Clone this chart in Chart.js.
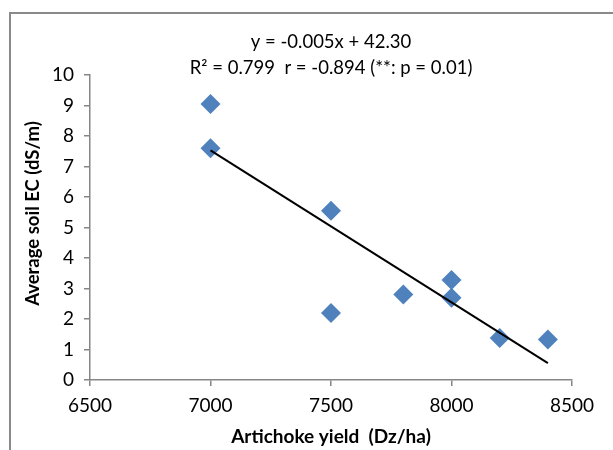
<!DOCTYPE html>
<html>
<head>
<meta charset="utf-8">
<title>Artichoke yield vs average soil EC</title>
<script src="https://cdn.jsdelivr.net/npm/chart.js@4.4.0/dist/chart.umd.min.js"></script>
<style>
  html, body { margin: 0; padding: 0; background: #fff; overflow: hidden; }
  #wrap { position: relative; width: 613px; height: 450px; }
  #frame { position: absolute; left: 9px; top: 12px; width: 700px; height: 500px;
           border-left: 2px solid #8a8a8a; border-top: 2px solid #8a8a8a; }
  #chart { position: absolute; left: 0; top: 0; }
</style>
</head>
<body>
<div id="wrap">
  <div id="frame"></div>
  <canvas id="chart" width="613" height="450"></canvas>
</div>
<script>
// yield (Dz/ha) and average soil EC (dS/m) per plot
var yieldDzHa = [7000, 7000, 7500, 7500, 7800, 8000, 8000, 8200, 8400];
var soilEC    = [9.05, 7.6, 5.55, 2.2, 2.8, 3.28, 2.7, 1.38, 1.33];

var xTicks = [6500, 7000, 7500, 8000, 8500];
var yTicks = [0, 1, 2, 3, 4, 5, 6, 7, 8, 9, 10];

var fitLabel = ['y = -0.005x + 42.30', 'R\u00b2 = 0.799  r = -0.894 (**: p = 0.01)'];
var xTitle = 'Artichoke yield  (Dz/ha)';
var yTitle = 'Average soil EC (dS/m)';

// least squares fit of EC on yield
function linearFit(xs, ys) {
  var n = xs.length, mx = 0, my = 0, sxy = 0, sxx = 0;
  for (var i = 0; i < n; i++) { mx += xs[i]; my += ys[i]; }
  mx /= n; my /= n;
  for (var j = 0; j < n; j++) {
    sxy += (xs[j] - mx) * (ys[j] - my);
    sxx += (xs[j] - mx) * (xs[j] - mx);
  }
  var slope = sxy / sxx;
  return { slope: slope, intercept: my - slope * mx };
}

var fit = linearFit(yieldDzHa, soilEC);
var xLo = Math.min.apply(null, yieldDzHa), xHi = Math.max.apply(null, yieldDzHa);
var trend = [xLo, xHi].map(function (x) { return { x: x, y: fit.intercept + fit.slope * x }; });

var points = yieldDzHa.map(function (x, i) { return { x: x, y: soilEC[i] }; });

var axisGray = '#868686';
var FONT = 'Lato, "Open Sans", sans-serif';

// equation text above the plot, plus the rotated y title sitting a bit above centre
var extraText = {
  id: 'extraText',
  afterDraw: function (chart) {
    var ctx = chart.ctx, area = chart.chartArea;
    var cx = (area.left + area.right) / 2;
    ctx.save();
    ctx.fillStyle = '#000';
    ctx.font = '18.5px ' + FONT;
    ctx.textAlign = 'center';
    ctx.textBaseline = 'middle';
    ctx.fillText(fitLabel[0], cx, 42);
    ctx.fillText(fitLabel[1], cx, 68);

    ctx.translate(33, (area.top + area.bottom) / 2 - 14);
    ctx.rotate(-Math.PI / 2);
    ctx.font = 'bold 18.5px ' + FONT;
    ctx.fillText(yTitle, 0, 0);
    ctx.restore();
  }
};

function plain(v) { return String(v); }

new Chart(document.getElementById('chart'), {
  type: 'scatter',
  data: {
    datasets: [{
      label: 'Trend',
      type: 'line',
      data: trend,
      borderColor: '#000',
      borderWidth: 2,
      pointRadius: 0,
      fill: false,
      order: 0
    }, {
      label: 'Average soil EC',
      data: points,
      pointStyle: 'rectRot',
      pointRadius: 10,
      pointHoverRadius: 10,
      backgroundColor: '#4F81BD',
      borderColor: '#4F81BD',
      borderWidth: 0,
      order: 1
    }]
  },
  options: {
    responsive: false,
    animation: false,
    events: [],
    layout: { padding: { left: 0, top: 75, right: 41, bottom: 0 } },
    plugins: {
      legend: { display: false },
      tooltip: { enabled: false }
    },
    scales: {
      x: {
        type: 'linear',
        min: 6500,
        max: 8500,
        afterFit: function (s) { s.height = 70; },
        afterBuildTicks: function (s) { s.ticks = xTicks.map(function (v) { return { value: v }; }); },
        ticks: { color: '#000', padding: 8, callback: plain, font: { family: FONT, size: 19 } },
        grid: { drawOnChartArea: false, drawTicks: true, tickLength: 6, color: axisGray, lineWidth: 1.5 },
        border: { color: axisGray, width: 1.5 },
        title: {
          display: true,
          text: xTitle,
          color: '#000',
          padding: { top: 0, bottom: 2 },
          font: { family: FONT, size: 19, weight: 'bold' }
        }
      },
      y: {
        min: 0,
        max: 10,
        afterFit: function (s) { s.width = 90; },
        afterBuildTicks: function (s) { s.ticks = yTicks.map(function (v) { return { value: v }; }); },
        ticks: { color: '#000', padding: 10, callback: plain, font: { family: FONT, size: 19 } },
        grid: { drawOnChartArea: false, drawTicks: true, tickLength: 6, color: axisGray, lineWidth: 1.5 },
        border: { color: axisGray, width: 1.5 },
        title: { display: false }
      }
    }
  },
  plugins: [extraText]
});
</script>
</body>
</html>
